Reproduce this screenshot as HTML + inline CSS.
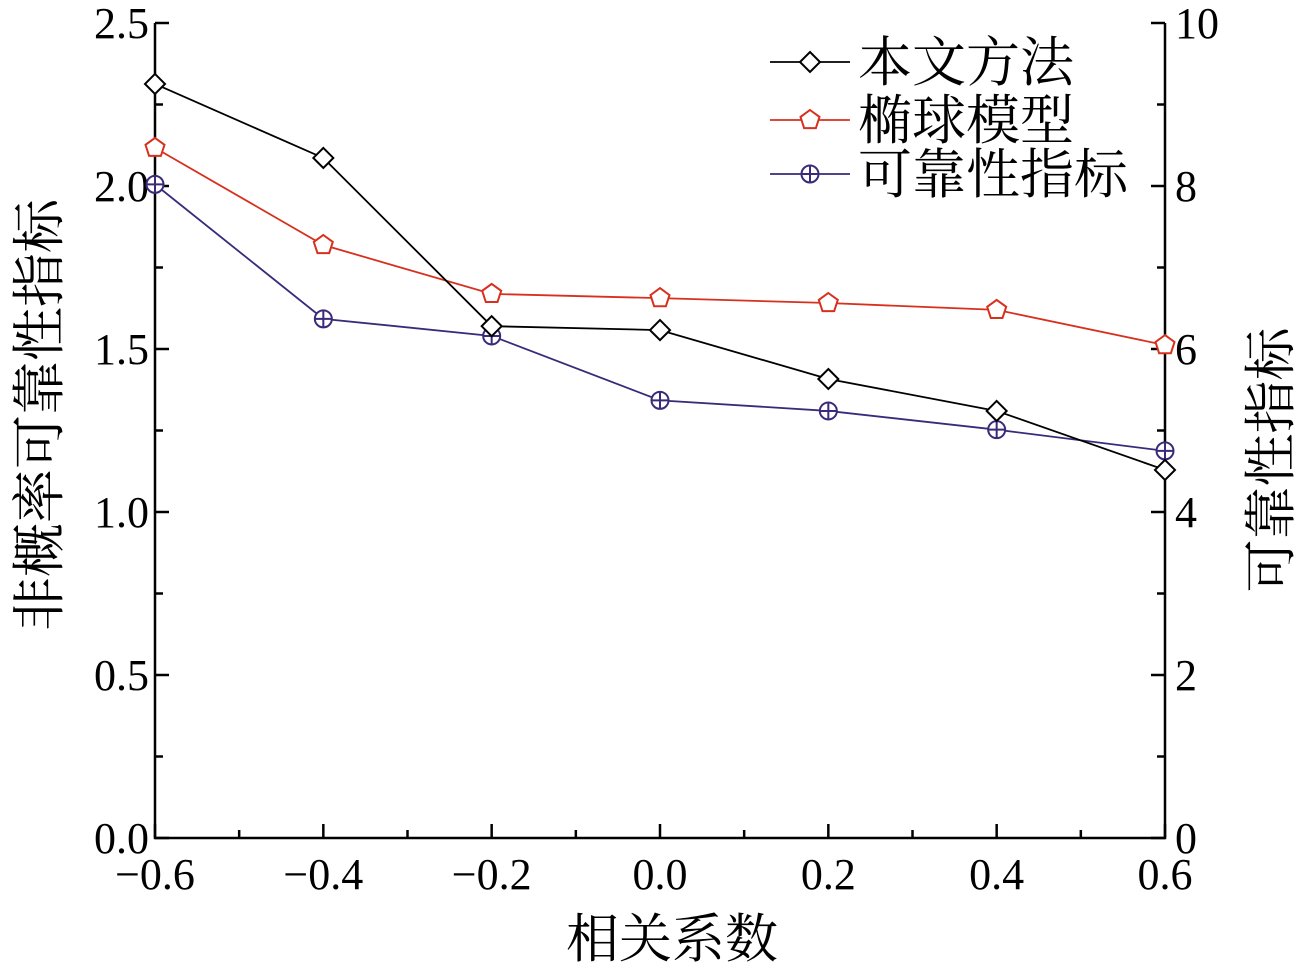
<!DOCTYPE html>
<html><head><meta charset="utf-8"><style>
body{margin:0;background:#fff}
svg text{font-family:"Liberation Serif","Noto Serif CJK SC",serif;fill:#000}
</style></head><body>
<svg id="c" width="1304" height="967" viewBox="0 0 1304 967"></svg>
<script>
const categories=[-0.6,-0.4,-0.2,0.0,0.2,0.4,0.6];
const seriesMethod=[2.313,2.086,1.570,1.558,1.408,1.310,1.129];
const seriesEllipsoid=[2.117,1.819,1.669,1.656,1.641,1.620,1.512];
const seriesReliability=[8.02,6.37,6.16,5.37,5.24,5.01,4.75];
const xTicks=[-0.6,-0.4,-0.2,0.0,0.2,0.4,0.6];
const xTickLabels=["\u22120.6","\u22120.4","\u22120.2","0.0","0.2","0.4","0.6"];
const yLeftTicks=[0,0.5,1.0,1.5,2.0,2.5];
const yLeftLabels=["0.0","0.5","1.0","1.5","2.0","2.5"];
const yRightTicks=[0,2,4,6,8,10];
const yRightLabels=["0","2","4","6","8","10"];

const L=155,R=1165,T=23,B=838;
const xs=v=>L+(v+0.6)/1.2*(R-L);
const yl=v=>B-v/2.5*(B-T);
const yr=v=>B-v/10*(B-T);
const svg=document.getElementById('c');
const NS='http://www.w3.org/2000/svg';
function mk(t,a,p){const e=document.createElementNS(NS,t);for(const k in a)e.setAttribute(k,a[k]);(p||svg).appendChild(e);return e;}

let ax=mk('path',{d:`M${L},${T}V${B}H${R}V${T}`,fill:'none',stroke:'#000','stroke-width':2.5});


for(let i=0;i<=12;i++){const v=-0.6+i*0.1;const x=xs(v);const major=i%2==0;
 mk('line',{x1:x,x2:x,y1:B,y2:B-(major?14:8),stroke:'#000','stroke-width':2.5});}
xTicks.forEach((v,i)=>{const t=mk('text',{x:xs(v),y:B+51,'text-anchor':'middle','font-size':44});t.textContent=xTickLabels[i];
 
 });
for(let i=0;i<=10;i++){const v=i*0.25;const y=yl(v);const major=i%2==0;
 mk('line',{x1:L,x2:L+(major?14:8),y1:y,y2:y,stroke:'#000','stroke-width':2.5});}
yLeftTicks.forEach((v,i)=>{const t=mk('text',{x:L-6,y:yl(v)+15,'text-anchor':'end','font-size':44});t.textContent=yLeftLabels[i];
 
 });
for(let i=0;i<=10;i++){const y=yr(i);const major=i%2==0;
 mk('line',{x1:R,x2:R-(major?14:8),y1:y,y2:y,stroke:'#000','stroke-width':2.5});}
yRightTicks.forEach((v,i)=>{const t=mk('text',{x:R+10,y:yr(v)+15,'text-anchor':'start','font-size':44});t.textContent=yRightLabels[i];
 
 });
let xt=mk('text',{x:672,y:957,'text-anchor':'middle','font-size':53});xt.textContent='相关系数';


let ylt=mk('text',{x:0,y:0,'text-anchor':'middle','font-size':54,transform:'translate(58,415) rotate(-90)'});ylt.textContent='非概率可靠性指标';


let yrt=mk('text',{x:0,y:0,'text-anchor':'middle','font-size':53,transform:'translate(1289,460) rotate(-90)'});yrt.textContent='可靠性指标';



function diamond(g,x,y,c){mk('path',{d:`M${x},${y-10}L${x+10},${y}L${x},${y+10}L${x-10},${y}Z`,fill:'#fff',stroke:c,'stroke-width':2},g);}
function penta(g,x,y,c){let p=[];for(let k=0;k<5;k++){const a=-Math.PI/2+k*2*Math.PI/5;p.push((x+10*Math.cos(a)).toFixed(1)+','+(y+10*Math.sin(a)).toFixed(1));}
 mk('polygon',{points:p.join(' '),fill:'#fff',stroke:c,'stroke-width':2},g);}
function oplus(g,x,y,c){mk('circle',{cx:x,cy:y,r:8.5,fill:'#fff',stroke:c,'stroke-width':2},g);
 mk('path',{d:`M${x-8.5},${y}H${x+8.5}M${x},${y-8.5}V${y+8.5}`,stroke:c,'stroke-width':2},g);}

function series(vals,ys,color,marker,name){const g=mk('g',{});
 
 
 mk('polyline',{points:vals.map((v,i)=>xs(categories[i])+','+ys(v)).join(' '),fill:'none',stroke:color,'stroke-width':1.8},g);
 vals.forEach((v,i)=>marker(g,xs(categories[i]),ys(v),color));}
series(seriesEllipsoid,yl,'#d8301e',penta,'series-ellipsoid');
series(seriesReliability,yr,'#3a2a7a',oplus,'series-reliability');
series(seriesMethod,yl,'#000',diamond,'series-method');

const leg=[['本文方法','#000',diamond,62],['椭球模型','#d8301e',penta,120],['可靠性指标','#3a2a7a',oplus,174]];
leg.forEach(([txt,c,m,y])=>{const g=mk('g',{});
 
 
 mk('line',{x1:770,x2:850,y1:y,y2:y,stroke:c,'stroke-width':1.8},g);m(g,810,y,c);
 const t=mk('text',{x:858,y:y+19,'font-size':54},g);t.textContent=txt;});
</script>
</body></html>
